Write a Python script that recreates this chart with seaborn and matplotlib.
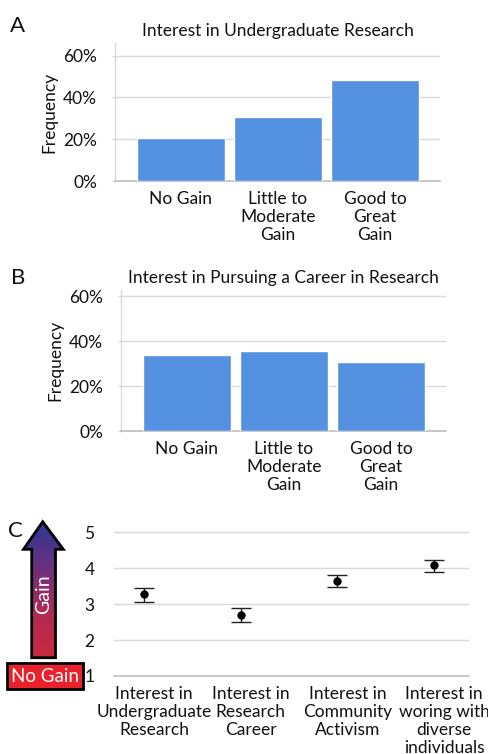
import numpy as np
import pandas as pd
import matplotlib
matplotlib.use("Agg")
import matplotlib.pyplot as plt
import matplotlib.transforms as mtransforms
import seaborn as sns
from matplotlib.patches import Polygon, Rectangle
from matplotlib.ticker import PercentFormatter, FixedLocator
from matplotlib.colors import LinearSegmentedColormap

# ---------------- data ----------------
gain_levels = ["No Gain", "Little to\nModerate\nGain", "Good to\nGreat\nGain"]
undergrad_freq = [0.207, 0.308, 0.484]
career_freq = [0.339, 0.357, 0.305]

c_items = ["Interest in\nUndergraduate\nResearch", "Interest in\nResearch\nCareer",
           "Interest in\nCommunity\nActivism", "Interest in\nworing with\ndiverse\nindividuals"]
c_means = [3.27, 2.70, 3.65, 4.08]
c_low = [3.07, 2.50, 3.49, 3.91]
c_high = [3.45, 2.89, 3.80, 4.23]

pct_ticks = [0, 0.2, 0.4, 0.6]
score_ticks = [1, 2, 3, 4, 5]

# ---------------- style ----------------
sns.set_theme(style="white")
plt.rcParams['font.family'] = ['Lato', 'DejaVu Sans']
BAR = "#5591e1"
GRID = "#d9d9d9"
AXC = "#bfbfbf"
TXT = "#111111"

W, H = 489, 754
fig = plt.figure(figsize=(W / 100, H / 100), dpi=100)


def px_axes(left, right, top, bottom):
    return fig.add_axes([left / W, 1 - bottom / H, (right - left) / W, (bottom - top) / H])


def bar_panel(ax, values, title, ytop):
    df = pd.DataFrame({"level": gain_levels, "freq": values})
    sns.barplot(data=df, x="level", y="freq", color=BAR, width=0.9,
                saturation=1, ax=ax, zorder=3)
    ax.set_xlim(-0.68, 2.67)
    ax.set_ylim(0, ytop)
    ax.yaxis.set_major_locator(FixedLocator(pct_ticks))
    ax.yaxis.set_major_formatter(PercentFormatter(1.0, decimals=0))
    ax.grid(axis="y", color=GRID, lw=1, zorder=0)
    for s in ["top", "right"]:
        ax.spines[s].set_visible(False)
    ax.spines["left"].set_color(GRID)
    ax.spines["bottom"].set_color(AXC)
    ax.spines["left"].set_linewidth(1)
    ax.spines["bottom"].set_linewidth(1.2)
    ax.tick_params(axis="y", left=True, length=2, width=1, color=GRID, pad=11,
                   labelsize=12.5, labelcolor=TXT)
    ax.tick_params(axis="x", bottom=False, length=0, pad=7, labelsize=12.5, labelcolor=TXT)
    ax.set_xlabel("")
    ax.set_ylabel("Frequency", fontsize=12.5, color=TXT, labelpad=4)
    ax.set_title(title, fontsize=12.5, color=TXT, pad=5)
    for lab in ax.get_xticklabels():
        lab.set_linespacing(1.15)


# Panel A
axA = px_axes(115, 440, 43, 181)
bar_panel(axA, undergrad_freq, "Interest in Undergraduate Research", 0.66)
# Panel B
axB = px_axes(121, 446, 290, 431)
bar_panel(axB, career_freq, "Interest in Pursuing a Career in Research", 0.627)

# Panel C
axC = px_axes(114, 469, 527, 676)
dfc = pd.DataFrame({"item": c_items, "mean": c_means})
xpos = np.arange(len(c_items))
axC.errorbar(xpos, c_means,
             yerr=[np.array(c_means) - np.array(c_low), np.array(c_high) - np.array(c_means)],
             fmt="none", ecolor="#222222", elinewidth=1, capsize=7, capthick=1, zorder=3)
sns.scatterplot(data=dfc, x="item", y="mean", color="black", s=36, ax=axC,
                zorder=4, edgecolor="black", linewidth=0)
axC.set_xlim(-0.31, 3.36)
axC.set_ylim(1, 5.15)
axC.yaxis.set_major_locator(FixedLocator(score_ticks))
axC.grid(axis="y", color=GRID, lw=1, zorder=0)
for s in ["top", "right", "left"]:
    axC.spines[s].set_visible(False)
axC.spines["bottom"].set_color(AXC)
axC.spines["bottom"].set_linewidth(1.2)
axC.tick_params(axis="y", left=False, length=0, pad=14, labelsize=12.5, labelcolor=TXT)
axC.tick_params(axis="x", bottom=False, length=0, pad=7, labelsize=12.5, labelcolor=TXT)
axC.set_xlabel("")
axC.set_ylabel("")
shift = mtransforms.ScaledTranslation(10 / 100, 0, fig.dpi_scale_trans)
for lab in axC.get_xticklabels():
    lab.set_linespacing(1.15)
    lab.set_transform(lab.get_transform() + shift)

# Gradient arrow (Gain)
axArr = fig.add_axes([0, 0, 1, 1], zorder=5)
axArr.set_xlim(0, W)
axArr.set_ylim(H, 0)
axArr.axis("off")
arrow_pts = [(42.7, 521.7), (63.3, 549.3), (55.5, 549.3), (55.5, 657.7),
             (31.7, 657.7), (31.7, 549.3), (23.5, 549.3)]
cmap = LinearSegmentedColormap.from_list("gain", ["#2a3a92", "#6a2f7f", "#b02a55", "#c9293f"])
grad = np.linspace(0, 1, 256).reshape(-1, 1)
im = axArr.imshow(grad, cmap=cmap, extent=(20, 66, 659, 521), aspect="auto",
                  origin="upper", zorder=5)
poly = Polygon(arrow_pts, closed=True, facecolor="none", edgecolor="black", lw=2, zorder=6)
axArr.add_patch(poly)
im.set_clip_path(poly)
axArr.text(43.5, 594, "Gain", rotation=90, color="white", fontsize=14,
           ha="center", va="center", zorder=7)
axArr.add_patch(Rectangle((7, 663), 76, 26, facecolor="#e8212b", edgecolor="black",
                          lw=2, zorder=6))
axArr.text(45, 676.5, "No Gain", color="white", fontsize=13.5, ha="center", va="center",
           zorder=7)

# Panel letters
axArr.text(18, 26, "A", fontsize=16, color=TXT, ha="center", va="center", zorder=10)
axArr.text(18, 278, "B", fontsize=16, color=TXT, ha="center", va="center", zorder=10)
axArr.text(15, 531, "C", fontsize=16, color=TXT, ha="center", va="center", zorder=10)

fig.savefig("out.png", dpi=100, facecolor="white")
